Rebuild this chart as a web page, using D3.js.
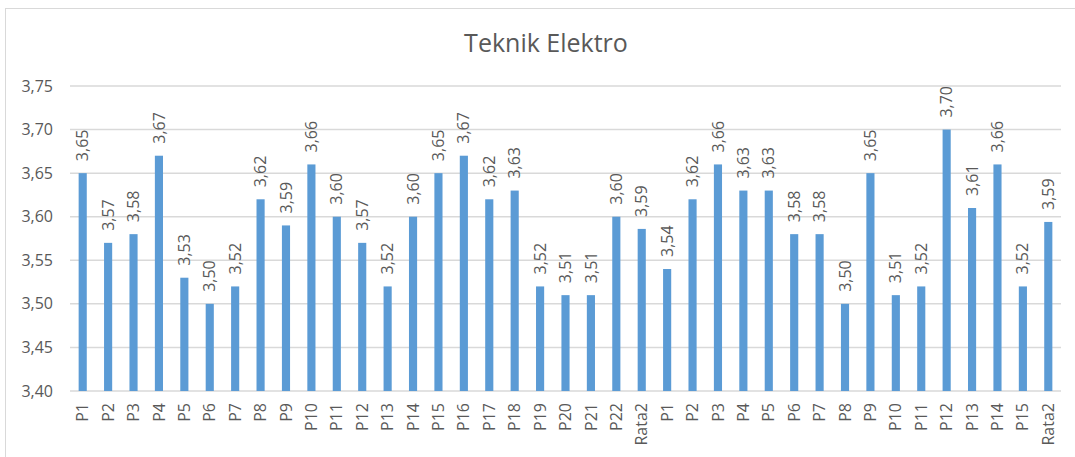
<!DOCTYPE html>
<html>
<head>
<meta charset="utf-8">
<script src="https://cdn.jsdelivr.net/npm/d3@7"></script>
<style>
  body { margin: 0; background: #fff; }
  text { font-family: "Open Sans", "DejaVu Sans", sans-serif; fill: #595959; }
</style>
</head>
<body>
<div id="chart"></div>
<script>
// data
let categories = ['P1','P2','P3','P4','P5','P6','P7','P8','P9','P10','P11','P12','P13','P14','P15','P16','P17','P18','P19','P20','P21','P22','Rata2',
  'P1','P2','P3','P4','P5','P6','P7','P8','P9','P10','P11','P12','P13','P14','P15','Rata2'];
let values = [3.65,3.57,3.58,3.67,3.53,3.50,3.52,3.62,3.59,3.66,3.60,3.57,3.52,3.60,3.65,3.67,3.62,3.63,3.52,3.51,3.51,3.60,3.586,
  3.54,3.62,3.66,3.63,3.63,3.58,3.58,3.50,3.65,3.51,3.52,3.70,3.61,3.66,3.52,3.594];
let yTicks = [3.40,3.45,3.50,3.55,3.60,3.65,3.70,3.75];
let title = 'Teknik Elektro';

let margin = { top: 86, right: 14, bottom: 66, left: 70 };
let W = 1075, H = 457;
let width = W - margin.left - margin.right;
let height = H - margin.top - margin.bottom;

let fmt = function(v){ return d3.format('.2f')(v).replace('.', ','); };

let svg = d3.select('#chart')
  .append('svg')
  .attr('width', W)
  .attr('height', H);

// chart frame
svg.append('rect')
  .attr('x', 5.5)
  .attr('y', 8.5)
  .attr('width', 1100)
  .attr('height', 500)
  .attr('fill', 'none')
  .attr('stroke', '#d9d9d9');

svg.append('text')
  .attr('x', 546)
  .attr('y', 52)
  .attr('text-anchor', 'middle')
  .attr('font-size', '25px')
  .text(title);

let g = svg.append('g')
  .attr('transform', 'translate(' + margin.left + ', ' + margin.top + ')');

let x = d3.scaleBand()
  .domain(d3.range(categories.length))
  .range([0, width])
  .paddingInner(0.68)
  .paddingOuter(0.34);

let y = d3.scaleLinear()
  .domain([3.40, 3.75])
  .range([height, 0]);

// gridlines
g.append('g')
  .selectAll('line')
  .data(yTicks)
  .enter()
  .append('line')
  .attr('x1', 0)
  .attr('x2', width)
  .attr('y1', d => y(d))
  .attr('y2', d => y(d))
  .attr('stroke', '#d9d9d9')
  .attr('stroke-width', 1.5);

// y axis labels
let yAxis = g.append('g')
  .call(d3.axisLeft(y).tickValues(yTicks).tickFormat(fmt).tickSize(0).tickPadding(17));
yAxis.select('.domain').remove();
yAxis.selectAll('text')
  .attr('font-size', '16px')
  .style('font-family', '"Open Sans", sans-serif')
  .attr('fill', '#595959');

// bars
g.selectAll('rect.bar')
  .data(values)
  .enter()
  .append('rect')
  .attr('class', 'bar')
  .attr('x', (d, i) => x(i))
  .attr('y', d => y(d))
  .attr('width', x.bandwidth())
  .attr('height', d => height - y(d))
  .attr('fill', '#5b9bd5');

// value labels
g.selectAll('text.val')
  .data(values)
  .enter()
  .append('text')
  .attr('class', 'val')
  .attr('transform', (d, i) => 'translate(' + (x(i) + x.bandwidth() / 2) + ',' + (y(d) - 12) + ') rotate(-90)')
  .attr('dy', '0.35em')
  .attr('font-size', '16px')
  .text(d => fmt(d));

// x axis labels
let xAxis = g.append('g')
  .attr('transform', 'translate(0, ' + height + ')')
  .call(d3.axisBottom(x).tickFormat(i => categories[i]).tickSize(0));
xAxis.select('.domain').remove();
xAxis.selectAll('text')
  .attr('font-size', '16px')
  .style('font-family', '"Open Sans", sans-serif')
  .attr('fill', '#595959')
  .attr('text-anchor', 'end')
  .attr('transform', 'rotate(-90)')
  .attr('x', -12)
  .attr('y', 0)
  .attr('dy', '0.35em');
</script>
</body>
</html>
